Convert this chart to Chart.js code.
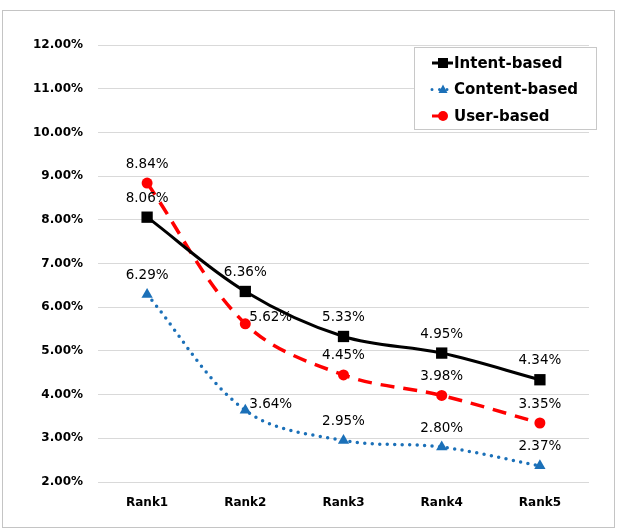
<!DOCTYPE html>
<html lang="en">
    <head>
        <meta charset="UTF-8" />
        <title>Rank comparison</title>
        <script src="https://cdn.jsdelivr.net/npm/chart.js@4.4.1/dist/chart.umd.min.js"></script>
        <style>
            body {
                margin: 0;
                background: #fff;
            }
            canvas {
                display: block;
            }
        </style>
    </head>

    <body>
        <canvas id="myChart" width="635" height="530"></canvas>

        <script>
            // values (percent)
            const ranks = ["Rank1", "Rank2", "Rank3", "Rank4", "Rank5"];
            const intentBased = [8.06, 6.36, 5.33, 4.95, 4.34];
            const contentBased = [6.29, 3.64, 2.95, 2.8, 2.37];
            const userBased = [8.84, 5.62, 4.45, 3.98, 3.35];
            const yTicks = [2, 3, 4, 5, 6, 7, 8, 9, 10, 11, 12];

            const BLUE = "#1b70b8";
            const RED = "#ff0000";

            // value labels above each point (a few sit to the right)
            const valueLabels = {
                id: "valueLabels",
                afterDatasetsDraw(chart) {
                    const ctx = chart.ctx;
                    ctx.save();
                    ctx.font = '13.5px "DejaVu Sans"';
                    ctx.fillStyle = "#000";
                    ctx.textBaseline = "middle";
                    chart.data.datasets.forEach((ds, i) => {
                        const meta = chart.getDatasetMeta(i);
                        meta.data.forEach((pt, j) => {
                            const txt = ds.data[j].toFixed(2) + "%";
                            if (ds.labelAlign && ds.labelAlign[j] === "right") {
                                ctx.textAlign = "left";
                                ctx.fillText(txt, pt.x + 4, pt.y - 6);
                            } else {
                                ctx.textAlign = "center";
                                ctx.fillText(txt, pt.x, pt.y - 19);
                            }
                        });
                    });
                    ctx.restore();
                },
            };

            function marker(ctx, style, x, y, r, color) {
                ctx.fillStyle = color;
                ctx.beginPath();
                if (style === "rect") {
                    ctx.rect(x - r, y - r, 2 * r, 2 * r);
                } else if (style === "triangle") {
                    ctx.moveTo(x, y - r * 1.1);
                    ctx.lineTo(x + r, y + r * 0.75);
                    ctx.lineTo(x - r, y + r * 0.75);
                    ctx.closePath();
                } else {
                    ctx.arc(x, y, r, 0, Math.PI * 2);
                }
                ctx.fill();
            }

            // boxed legend inside the plot, plus the outer frame
            const boxLegend = {
                id: "boxLegend",
                afterDraw(chart) {
                    const ctx = chart.ctx;
                    ctx.save();
                    ctx.strokeStyle = "#c4c4c4";
                    ctx.lineWidth = 1;
                    ctx.strokeRect(2.5, 10.5, 612, 517);

                    ctx.fillStyle = "#fff";
                    ctx.fillRect(414.5, 47.5, 182, 82);
                    ctx.strokeStyle = "#c8c8c8";
                    ctx.strokeRect(414.5, 47.5, 182, 82);

                    ctx.font = 'bold 15px "DejaVu Sans"';
                    ctx.textBaseline = "middle";
                    ctx.textAlign = "left";
                    chart.data.datasets.forEach((ds, i) => {
                        const y = 63 + i * 26.5;
                        ctx.strokeStyle = ds.borderColor;
                        ctx.lineWidth = 3;
                        ctx.lineCap = ds.borderCapStyle || "butt";
                        ctx.setLineDash(ds.borderDash || []);
                        ctx.beginPath();
                        ctx.moveTo(432, y);
                        ctx.lineTo(453, y);
                        ctx.stroke();
                        ctx.setLineDash([]);
                        marker(ctx, ds.pointStyle, 443, y, ds.legendRadius, ds.pointBackgroundColor);
                        ctx.fillStyle = "#000";
                        ctx.fillText(ds.label, 454, y + 1);
                    });
                    ctx.restore();
                },
            };

            const ctx = document.getElementById("myChart").getContext("2d");
            const myChart = new Chart(ctx, {
                type: "line",
                data: {
                    labels: ranks,
                    datasets: [
                        {
                            label: "Intent-based",
                            data: intentBased,
                            borderColor: "#000",
                            borderWidth: 3,
                            tension: 0.35,
                            pointStyle: "rect",
                            pointRadius: 8,
                            pointBackgroundColor: "#000",
                            pointBorderColor: "#000",
                            pointBorderWidth: 0,
                            legendRadius: 5,
                            labelAlign: ["top", "top", "top", "top", "top"],
                        },
                        {
                            label: "Content-based",
                            data: contentBased,
                            borderColor: BLUE,
                            borderWidth: 3.5,
                            borderDash: [0, 7.5],
                            borderCapStyle: "round",
                            tension: 0.35,
                            pointStyle: "triangle",
                            pointRadius: 6.5,
                            pointBackgroundColor: BLUE,
                            pointBorderColor: BLUE,
                            pointBorderWidth: 0,
                            legendRadius: 4.5,
                            labelAlign: ["top", "right", "top", "top", "top"],
                        },
                        {
                            label: "User-based",
                            data: userBased,
                            borderColor: RED,
                            borderWidth: 3.5,
                            borderDash: [14, 9],
                            tension: 0.35,
                            pointStyle: "circle",
                            pointRadius: 5.5,
                            pointBackgroundColor: RED,
                            pointBorderColor: RED,
                            pointBorderWidth: 0,
                            legendRadius: 5,
                            labelAlign: ["top", "right", "top", "top", "top"],
                        },
                    ],
                },
                options: {
                    responsive: false,
                    animation: false,
                    layout: {
                        padding: { left: 32, right: 46, top: 45, bottom: 8 },
                    },
                    plugins: {
                        legend: { display: false },
                        tooltip: { enabled: false },
                    },
                    scales: {
                        x: {
                            offset: true,
                            grid: { display: false, drawTicks: false },
                            border: { display: false },
                            ticks: {
                                padding: 14,
                                color: "#000",
                                font: { family: "DejaVu Sans", weight: "bold", size: 12 },
                            },
                            afterFit: (s) => {
                                s.height = 40;
                            },
                        },
                        y: {
                            min: 2,
                            max: 12,
                            afterBuildTicks: (s) => {
                                s.ticks = yTicks.map((v) => ({ value: v }));
                            },
                            grid: { color: "#d9d9d9", lineWidth: 1, drawTicks: false },
                            border: { display: false },
                            ticks: {
                                padding: 15,
                                color: "#000",
                                font: { family: "DejaVu Sans", weight: "bold", size: 12 },
                                callback: (v) => Number(v).toFixed(2) + "%",
                            },
                            afterFit: (s) => {
                                s.width = 66;
                            },
                        },
                    },
                },
                plugins: [valueLabels, boxLegend],
            });
        </script>
    </body>
</html>
